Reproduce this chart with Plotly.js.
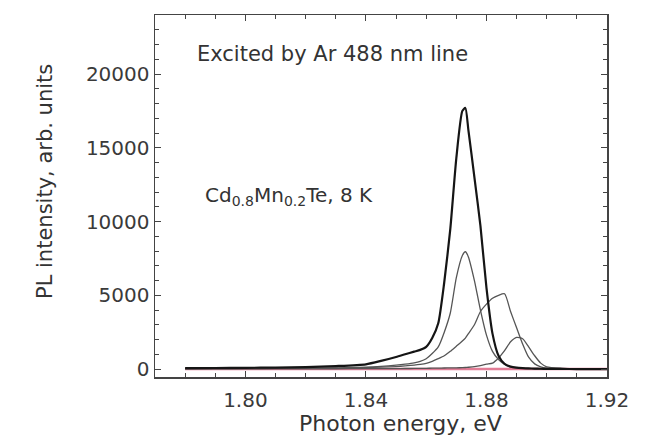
<!DOCTYPE html>
<html><head><meta charset="utf-8">
<script src="https://cdn.plot.ly/plotly-3.0.1.min.js"></script>
<style>html,body{margin:0;padding:0;background:#fff}#chart{width:647px;height:437px}</style>
</head><body><div id="chart"></div>
<script>
const energy = [1.780,1.790,1.800,1.810,1.820,1.830,1.840,1.845,1.850,1.853,1.856,1.858,1.860,1.862,1.864,1.866,1.868,1.870,1.872,1.873,1.874,1.876,1.878,1.880,1.882,1.884,1.886,1.888,1.890,1.892,1.894,1.896,1.898,1.900,1.905,1.910,1.920];
const spectrumMain = [60,70,80,100,130,200,320,550,820,1000,1180,1300,1500,2100,3100,5900,9500,14300,17500,17700,16200,13000,9700,5500,2400,900,350,160,90,60,40,30,20,10,5,0,0];
const spectrum2 = [30,35,40,45,55,80,130,180,260,330,420,520,700,1050,1500,2500,3800,6200,7700,7950,7600,6000,4000,2300,1200,650,330,150,80,50,30,20,10,5,0,0,0];
const spectrum3 = [30,32,35,40,45,60,100,130,170,210,260,310,380,520,700,900,1200,1550,1900,2100,2400,3000,3900,4400,4800,5000,5100,3900,2800,1700,800,350,150,60,20,10,5];
const spectrum4 = [20,20,20,20,20,20,25,25,30,35,40,45,50,55,60,70,75,80,95,105,120,160,230,330,400,750,1250,1850,2150,2050,1500,900,400,150,50,20,10];
const baselineX = [1.780,1.800,1.840,1.880,1.900,1.920];
const baselineY = [0,0,0,0,0,0];
const xTicks = [1.80,1.84,1.88,1.92];
const xTickText = ['1.80','1.84','1.88','1.92'];
const yTicks = [0,5000,10000,15000,20000];
const yTickText = ['0','5000','10000','15000','20000'];
const xTitle = 'Photon energy, eV';
const yTitle = 'PL intensity, arb. units';
const note1 = 'Excited by Ar 488 nm line';
const note2 = 'Cd<sub>0.8</sub>Mn<sub>0.2</sub>Te, 8 K';

const sp = {shape:'spline', smoothing:0.6};
const traces = [
  {x: baselineX, y: baselineY, mode:'lines', line:{color:'#e27d96', width:2.5}},
  {x: energy, y: spectrum4, mode:'lines', line:Object.assign({color:'#555', width:1.3}, sp)},
  {x: energy, y: spectrum3, mode:'lines', line:Object.assign({color:'#555', width:1.3}, sp)},
  {x: energy, y: spectrum2, mode:'lines', line:Object.assign({color:'#555', width:1.3}, sp)},
  {x: energy, y: spectrumMain, mode:'lines', line:Object.assign({color:'#151515', width:2.2}, sp)}
];

const FAM = 'DejaVu Sans, Verdana, sans-serif';
const tickFont = {family:FAM, size:20, color:'#3a3a3a'};
const layout = {
  width:647, height:437,
  margin:{l:155, r:40, t:15, b:60},
  showlegend:false,
  paper_bgcolor:'#fff', plot_bgcolor:'#fff',
  font: tickFont,
  xaxis:{
    range:[1.77,1.92], tickvals:xTicks, ticktext:xTickText,
    ticks:'inside', ticklen:6, tickwidth:1, tickcolor:'#444',
    minor:{dtick:0.01, tick0:1.80, ticks:'inside', ticklen:4, tickcolor:'#444'},
    showline:true, linecolor:'#444', linewidth:1.5, mirror:'ticks',
    showgrid:false, zeroline:false, tickfont:tickFont, ticklabelstandoff:4
  },
  yaxis:{
    range:[-540,24000], tickvals:yTicks, ticktext:yTickText,
    ticks:'inside', ticklen:6, tickwidth:1, tickcolor:'#444',
    minor:{dtick:1000, tick0:0, ticks:'inside', ticklen:4, tickcolor:'#444'},
    showline:true, linecolor:'#444', linewidth:1.5, mirror:'ticks',
    showgrid:false, zeroline:false, tickfont:tickFont, ticklabelstandoff:0
  },
  annotations:[
    {xref:'paper', yref:'paper', x:0.088, y:0.892, xanchor:'left', yanchor:'middle', showarrow:false,
     text:note1, font:{family:FAM, size:21, color:'#333'}},
    {xref:'paper', yref:'paper', x:0.106, y:0.5, xanchor:'left', yanchor:'middle', showarrow:false,
     text:note2, font:{family:FAM, size:20, color:'#333'}},
    {xref:'paper', yref:'paper', x:(400-155)/452, y:(377-423)/362, xanchor:'center', yanchor:'middle', showarrow:false,
     text:xTitle, font:{family:FAM, size:22, color:'#333'}},
    {xref:'paper', yref:'paper', x:(45-155)/452, y:(377-182)/362, xanchor:'center', yanchor:'middle', showarrow:false, textangle:-90,
     text:yTitle, font:{family:FAM, size:21, color:'#333'}}
  ]
};
Plotly.newPlot('chart', traces, layout, {displayModeBar:false, staticPlot:true});
</script></body></html>
